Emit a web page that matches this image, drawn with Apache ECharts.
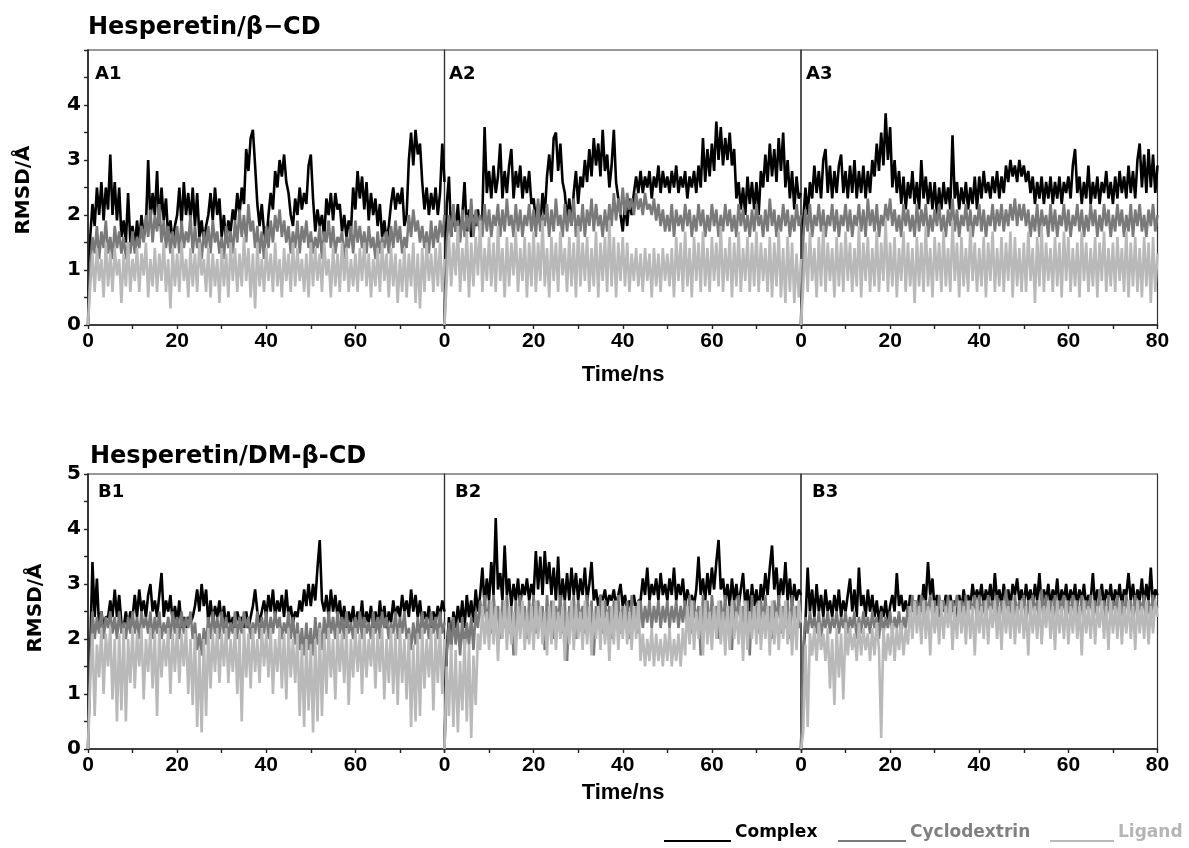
<!DOCTYPE html>
<html>
<head>
<meta charset="utf-8">
<script src="https://cdn.jsdelivr.net/npm/echarts@6/dist/echarts.min.js"></script>
<title>RMSD</title>
<style>html,body{margin:0;padding:0;background:#fff;}</style>
</head>
<body>
<div id="container" style="width:1189px;height:848px;"></div>
<script>
var a1Complex = [
  0, 1.6, 2.2, 1.8, 2.5, 2.0, 2.6, 1.9, 2.5, 2.1, 3.1, 2.0, 2.6, 1.9, 2.5, 1.6, 1.9, 1.5, 2.4, 1.5,
  1.8, 1.4, 1.9, 1.5, 2.0, 1.6, 1.8, 3.0, 1.9, 2.4, 2.0, 2.8, 1.8, 2.5, 1.9, 2.3, 1.6, 1.9, 1.5, 1.8,
  2.0, 2.5, 1.8, 2.6, 2.0, 2.4, 1.9, 2.5, 1.8, 2.4, 1.6, 1.9, 1.5, 1.8, 2.0, 2.4, 1.9, 2.5, 2.0, 2.3,
  1.6, 2.0, 1.5, 1.9, 1.7, 2.1, 1.9, 2.4, 2.0, 2.5, 2.2, 3.2, 2.8, 3.4, 3.55, 2.9, 2.2, 1.8, 2.2, 1.7,
  1.5, 2.0, 2.4, 2.1, 2.8, 2.5, 3.0, 2.7, 3.1, 2.6, 2.4, 2.0, 1.8, 2.3, 2.0, 2.5, 2.1, 2.4, 2.2, 2.9,
  3.1, 2.3, 1.7, 2.1, 1.8, 2.0, 1.6, 2.3, 2.0, 2.4, 1.9, 2.4, 2.1, 2.2, 1.7, 2.0, 1.6, 1.9, 1.7, 2.5,
  2.1, 2.8, 2.3, 2.7, 2.1, 2.6, 1.9, 2.4, 2.0, 2.3, 1.8, 2.2, 1.6, 1.9, 1.5, 1.8, 2.2, 2.5, 2.1, 2.4,
  2.2, 2.5, 1.8, 2.0, 3.0, 3.5, 2.9, 3.55, 3.1, 3.3, 2.6, 2.1, 2.5, 2.0, 2.4, 2.1, 2.5, 2.0, 2.4, 3.3,
  2.6];
var a1Cyclo = [
  0, 1.1, 1.6, 1.3, 1.8, 1.2, 1.7, 1.4, 1.9, 1.3, 1.6, 1.2, 1.8, 1.4, 1.7, 1.3, 1.6, 1.2, 1.5, 1.3,
  1.7, 1.3, 1.6, 1.4, 1.8, 1.5, 2.0, 1.6, 2.1, 1.5, 2.0, 1.7, 2.2, 1.5, 1.9, 1.4, 1.8, 1.3, 1.7, 1.4,
  1.8, 1.3, 1.9, 1.4, 1.7, 1.5, 2.0, 1.3, 1.8, 1.4, 1.6, 1.2, 1.7, 1.4, 1.8, 1.3, 1.9, 1.5, 1.7, 1.3,
  1.6, 1.2, 1.8, 1.4, 1.7, 1.3, 1.9, 1.5, 2.1, 1.6, 2.0, 1.5, 2.2, 1.7, 1.9, 1.4, 1.8, 1.3, 1.7, 1.2,
  1.8, 1.4, 1.9, 1.5, 2.0, 1.7, 2.1, 1.6, 1.9, 1.5, 1.8, 1.3, 1.7, 1.4, 1.9, 1.3, 1.8, 1.5, 1.9, 1.4,
  1.7, 1.3, 1.6, 1.4, 1.8, 1.2, 1.7, 1.5, 1.9, 1.4, 1.8, 1.3, 1.6, 1.5, 1.7, 1.2, 1.6, 1.4, 1.8, 1.3,
  1.9, 1.5, 1.8, 1.4, 1.7, 1.3, 1.8, 1.4, 1.6, 1.2, 1.7, 1.3, 1.6, 1.4, 1.7, 1.3, 1.8, 1.4, 1.9, 1.5,
  1.8, 1.3, 1.6, 1.4, 2.0, 1.6, 2.1, 1.7, 1.9, 1.5, 1.8, 1.4, 1.7, 1.3, 1.9, 1.4, 1.8, 1.5, 1.9, 1.6,
  2.0];
var a1Ligand = [
  0, 0.7, 1.3, 0.6, 1.4, 0.8, 1.2, 0.5, 1.5, 0.7, 1.3, 0.6, 1.4, 0.9, 1.2, 0.4, 1.3, 0.7, 1.5, 0.6,
  1.2, 0.8, 1.4, 0.6, 1.3, 0.9, 1.5, 0.5, 1.2, 0.7, 1.4, 0.6, 1.3, 0.8, 1.5, 0.6, 1.2, 0.3, 1.4, 0.7,
  1.3, 0.6, 1.5, 0.8, 1.2, 0.5, 1.4, 0.7, 1.3, 0.6, 1.5, 0.9, 1.2, 0.6, 1.4, 0.5, 1.3, 0.7, 1.2, 0.4,
  1.4, 0.7, 1.3, 0.5, 1.5, 0.8, 1.4, 0.6, 1.3, 0.7, 1.6, 0.8, 1.4, 0.5, 1.3, 0.3, 1.5, 0.7, 1.2, 0.6,
  1.4, 0.8, 1.3, 0.6, 1.5, 0.7, 1.2, 0.5, 1.4, 0.8, 1.3, 0.6, 1.5, 0.7, 1.4, 0.8, 1.2, 0.6, 1.3, 0.5,
  1.5, 0.7, 1.4, 0.8, 1.3, 0.6, 1.5, 0.9, 1.2, 0.5, 1.4, 0.7, 1.3, 0.6, 1.5, 0.8, 1.4, 0.6, 1.2, 0.7,
  1.3, 0.6, 1.4, 0.8, 1.5, 0.7, 1.3, 0.5, 1.2, 0.7, 1.4, 0.6, 1.5, 0.8, 1.3, 0.5, 1.4, 0.7, 1.3, 0.4,
  1.2, 0.6, 1.4, 0.5, 1.3, 0.7, 1.5, 0.4, 1.3, 0.3, 1.4, 0.6, 1.5, 0.8, 1.3, 0.6, 1.4, 0.7, 1.5, 0.6,
  1.2];

var a2Complex = [
  0, 2.2, 2.7, 1.6, 2.1, 1.7, 2.2, 1.6, 2.0, 2.6, 1.7, 2.1, 1.6, 2.0, 1.8, 2.1, 1.7, 2.0, 3.6, 2.4,
  2.8, 2.3, 2.9, 2.4, 2.7, 3.3, 2.3, 2.8, 2.4, 2.9, 3.2, 2.3, 2.8, 2.5, 2.9, 2.3, 2.7, 2.4, 2.8, 2.2,
  2.3, 1.9, 2.2, 1.8, 2.4, 2.0, 2.7, 3.1, 2.6, 3.4, 3.5, 2.8, 3.3, 2.6, 2.4, 1.9, 2.3, 1.8, 2.4, 2.8,
  2.2, 2.7, 2.5, 3.0, 2.6, 3.2, 2.7, 3.4, 2.9, 3.3, 2.7, 3.55, 2.8, 3.1, 2.5, 2.9, 3.55, 2.6, 2.3, 2.0,
  1.7, 2.2, 1.8, 2.3, 2.0, 2.4, 2.7, 2.4, 2.8, 2.4, 2.7, 2.5, 2.8, 2.3, 2.7, 2.5, 2.9, 2.4, 2.8, 2.5,
  2.7, 2.4, 2.8, 2.5, 2.9, 2.4, 2.7, 2.5, 2.8, 2.3, 2.7, 2.5, 2.8, 2.4, 2.9, 2.5, 3.4, 2.6, 3.2, 2.7,
  3.3, 2.8, 3.7, 3.0, 3.6, 2.9, 3.4, 3.0, 3.5, 2.9, 3.2, 2.3, 2.6, 2.1, 2.5, 2.0, 2.7, 2.2, 2.6, 2.1,
  2.6, 2.0, 2.8, 2.5, 3.1, 2.6, 3.3, 2.7, 3.2, 2.6, 3.4, 2.8, 3.5, 2.5, 3.0, 2.3, 2.8, 2.1, 2.7, 2.3,
  2.4];
var a2Cyclo = [
  0, 1.5, 2.0, 1.6, 2.2, 1.7, 1.9, 1.5, 2.1, 1.6, 2.0, 1.7, 2.3, 1.6, 2.1, 1.8, 2.0, 1.6, 2.2, 1.7,
  2.1, 1.6, 2.0, 1.8, 2.2, 1.6, 2.1, 1.7, 2.3, 1.8, 2.0, 1.6, 2.2, 1.7, 2.1, 1.6, 2.0, 1.8, 2.2, 1.7,
  2.1, 1.6, 2.3, 1.7, 2.0, 1.8, 2.2, 1.6, 2.1, 1.7, 2.3, 1.8, 2.0, 1.6, 2.2, 1.7, 2.1, 1.8, 2.3, 1.6,
  2.0, 1.7, 2.2, 1.6, 2.1, 1.8, 2.3, 1.7, 2.2, 1.8, 2.0, 1.6, 2.1, 1.7, 2.2, 1.8, 2.4, 1.9, 2.3, 2.0,
  2.5, 2.0, 2.4, 2.1, 2.3, 2.0, 2.4, 2.1, 2.3, 2.0, 2.4, 2.1, 2.2, 2.0, 2.3, 1.9, 2.2, 1.8, 2.1, 1.7,
  2.0, 1.7, 2.2, 1.6, 2.1, 1.8, 2.0, 1.7, 2.2, 1.8, 2.1, 1.6, 2.0, 1.7, 2.2, 1.8, 2.1, 1.6, 2.0, 1.7,
  2.2, 1.8, 2.1, 1.6, 2.0, 1.7, 2.2, 1.8, 2.1, 1.7, 2.0, 1.6, 2.2, 1.8, 2.1, 1.7, 2.0, 1.6, 2.1, 1.7,
  2.2, 1.8, 2.0, 1.6, 2.1, 1.7, 2.3, 1.8, 2.1, 1.6, 2.0, 1.7, 2.2, 1.8, 2.1, 1.6, 2.0, 1.7, 2.2, 1.8,
  2.0];
var a2Ligand = [
  0, 0.8, 1.6, 0.7, 1.5, 0.9, 1.8, 0.6, 1.4, 0.8, 1.7, 0.5, 1.5, 0.7, 1.6, 0.9, 1.9, 0.6, 1.4, 0.8,
  1.6, 0.7, 1.5, 0.6, 1.8, 0.8, 1.4, 0.5, 1.6, 0.7, 1.5, 0.9, 1.7, 0.6, 1.4, 0.8, 1.6, 0.5, 1.5, 0.7,
  1.7, 0.6, 1.5, 0.8, 1.9, 0.7, 1.4, 0.5, 1.6, 0.8, 1.5, 0.6, 1.7, 0.9, 1.4, 0.6, 1.6, 0.7, 1.5, 0.5,
  1.8, 0.7, 1.5, 0.8, 1.6, 0.6, 1.4, 0.7, 1.7, 0.5, 1.5, 0.8, 1.6, 0.6, 1.9, 0.7, 1.6, 0.5, 1.5, 0.8,
  1.6, 0.7, 1.5, 0.6, 1.3, 0.8, 1.4, 0.7, 1.3, 0.6, 1.4, 0.8, 1.3, 0.5, 1.4, 0.7, 1.3, 0.6, 1.4, 0.8,
  1.3, 0.7, 1.4, 0.5, 1.6, 0.8, 1.5, 0.6, 1.7, 0.7, 1.4, 0.5, 1.6, 0.8, 1.5, 0.6, 1.7, 0.7, 1.4, 0.6,
  1.6, 0.8, 1.5, 0.7, 1.8, 0.6, 1.4, 0.8, 1.6, 0.5, 1.5, 0.7, 1.7, 0.6, 1.4, 0.8, 1.6, 0.6, 1.5, 0.7,
  1.7, 0.6, 1.5, 0.8, 1.4, 0.6, 1.6, 0.5, 1.5, 0.7, 1.7, 0.5, 1.4, 0.4, 1.6, 0.6, 1.5, 0.4, 1.3, 0.5,
  1.2];

var a3Complex = [
  0, 1.9, 2.5, 2.0, 2.6, 2.3, 2.9, 2.4, 2.8, 2.3, 3.0, 3.2, 2.4, 2.9, 2.3, 2.8, 2.4, 2.9, 3.1, 2.4,
  2.8, 2.3, 2.9, 2.4, 3.0, 2.3, 2.8, 2.4, 2.9, 2.3, 2.8, 2.4, 3.0, 2.7, 3.3, 2.8, 3.5, 2.9, 3.85, 3.0,
  3.6, 2.5, 3.0, 2.4, 2.8, 2.2, 2.7, 2.1, 2.6, 2.3, 2.8, 2.2, 2.6, 2.1, 3.0, 2.3, 2.7, 2.2, 2.6, 2.1,
  2.6, 2.0, 2.5, 2.1, 2.6, 2.2, 2.5, 2.1, 3.45, 2.3, 2.6, 2.1, 2.5, 2.2, 2.6, 2.1, 2.5, 2.2, 2.7, 2.1,
  2.7, 2.3, 2.8, 2.4, 2.6, 2.3, 2.7, 2.4, 2.8, 2.3, 2.7, 2.4, 2.9, 2.6, 3.0, 2.7, 2.9, 2.6, 3.0, 2.7,
  2.9, 2.6, 2.8, 2.4, 2.7, 2.2, 2.6, 2.3, 2.7, 2.2, 2.6, 2.3, 2.7, 2.2, 2.6, 2.3, 2.7, 2.2, 2.6, 2.4,
  2.7, 2.3, 2.9, 3.2, 2.4, 2.7, 2.2, 2.6, 2.3, 2.9, 2.2, 2.6, 2.3, 2.7, 2.2, 2.6, 2.4, 2.8, 2.3, 2.6,
  2.2, 2.7, 2.3, 2.8, 2.4, 2.7, 2.3, 2.9, 2.4, 2.8, 2.3, 3.0, 3.3, 2.5, 3.1, 2.4, 3.2, 2.5, 3.1, 2.4,
  2.9];
var a3Cyclo = [
  0, 1.6, 2.1, 1.7, 2.2, 1.6, 2.0, 1.8, 2.2, 1.7, 2.1, 1.6, 2.0, 1.8, 2.2, 1.7, 2.1, 1.6, 2.0, 1.8,
  2.2, 1.7, 2.1, 1.6, 2.0, 1.8, 2.2, 1.7, 2.1, 1.6, 2.3, 1.8, 2.1, 1.7, 2.2, 1.6, 2.0, 1.8, 2.2, 1.9,
  2.3, 1.8, 2.1, 1.7, 2.0, 1.6, 2.2, 1.8, 2.1, 1.7, 2.0, 1.6, 2.2, 1.7, 2.1, 1.8, 2.2, 1.6, 2.0, 1.7,
  2.1, 1.8, 2.2, 1.7, 2.0, 1.6, 2.1, 1.8, 2.3, 1.7, 2.1, 1.6, 2.0, 1.8, 2.2, 1.7, 2.1, 1.6, 2.0, 1.8,
  2.2, 1.7, 2.1, 1.6, 2.0, 1.8, 2.2, 1.7, 2.1, 1.8, 2.2, 1.7, 2.1, 1.8, 2.2, 1.9, 2.3, 1.8, 2.2, 1.9,
  2.2, 1.8, 2.1, 1.6, 2.0, 1.7, 2.2, 1.6, 2.1, 1.8, 2.0, 1.6, 2.2, 1.7, 2.1, 1.6, 2.0, 1.8, 2.2, 1.7,
  2.1, 1.6, 2.0, 1.8, 2.2, 1.7, 2.1, 1.6, 2.0, 1.7, 2.2, 1.8, 2.1, 1.6, 2.0, 1.7, 2.2, 1.8, 2.1, 1.6,
  2.0, 1.7, 2.2, 1.8, 2.1, 1.6, 2.0, 1.7, 2.2, 1.6, 2.1, 1.8, 2.2, 1.7, 2.0, 1.6, 2.1, 1.8, 2.2, 1.7,
  2.0];
var a3Ligand = [
  0, 0.7, 1.5, 0.6, 1.7, 0.8, 1.4, 0.5, 1.6, 0.7, 1.8, 0.6, 1.5, 0.8, 1.4, 0.5, 1.6, 0.7, 1.5, 0.6,
  1.7, 0.8, 1.5, 0.6, 1.4, 0.7, 1.8, 0.5, 1.5, 0.8, 1.6, 0.6, 1.4, 0.7, 1.7, 0.6, 1.5, 0.8, 1.9, 0.6,
  1.5, 0.7, 1.6, 0.5, 1.4, 0.8, 1.7, 0.6, 1.5, 0.7, 1.4, 0.4, 1.6, 0.7, 1.5, 0.6, 1.8, 0.7, 1.4, 0.5,
  1.6, 0.8, 1.5, 0.6, 1.7, 0.7, 1.4, 0.6, 1.9, 0.8, 1.5, 0.5, 1.6, 0.7, 1.4, 0.6, 1.8, 0.8, 1.5, 0.6,
  1.4, 0.7, 1.6, 0.5, 1.5, 0.8, 1.7, 0.6, 1.4, 0.7, 1.6, 0.6, 1.5, 0.8, 1.7, 0.5, 1.6, 0.7, 1.4, 0.6,
  1.5, 0.6, 1.7, 0.8, 1.4, 0.4, 1.6, 0.7, 1.8, 0.6, 1.5, 0.8, 1.4, 0.6, 1.6, 0.7, 1.5, 0.5, 1.7, 0.8,
  1.6, 0.6, 1.4, 0.7, 1.5, 0.5, 1.7, 0.8, 1.5, 0.6, 1.4, 0.7, 1.6, 0.5, 1.5, 0.8, 1.7, 0.6, 1.4, 0.7,
  1.5, 0.6, 1.6, 0.8, 1.4, 0.6, 1.7, 0.5, 1.5, 0.7, 1.6, 0.6, 1.4, 0.5, 1.6, 0.7, 1.5, 0.4, 1.6, 0.6,
  1.3];

var b1Complex = [
  0, 1.8, 3.4, 2.4, 3.1, 2.2, 2.5, 2.2, 2.4, 2.4, 2.7, 2.4, 2.9, 2.4, 2.8, 2.3, 2.2, 2.5, 2.2, 2.5,
  2.4, 2.8, 2.4, 2.9, 2.5, 2.7, 2.4, 2.8, 3.0, 2.5, 2.7, 2.4, 2.8, 3.2, 2.4, 2.7, 2.5, 2.8, 2.3, 2.6,
  2.3, 2.7, 2.2, 2.4, 2.2, 2.4, 2.3, 2.4, 2.6, 2.9, 2.5, 3.0, 2.6, 2.9, 2.3, 2.7, 2.3, 2.6, 2.4, 2.7,
  2.3, 2.6, 2.2, 2.5, 2.2, 2.4, 2.2, 2.5, 2.3, 2.4, 2.2, 2.5, 2.2, 2.4, 2.6, 2.9, 2.5, 2.3, 2.5, 2.7,
  2.4, 2.8, 2.5, 2.9, 2.4, 2.7, 2.5, 2.8, 2.4, 2.9, 2.4, 2.6, 2.3, 2.5, 2.4, 2.7, 2.5, 2.9, 2.6, 3.0,
  2.6, 3.0, 2.7, 3.3, 3.8, 2.7, 2.5, 2.8, 2.4, 2.9, 2.5, 2.8, 2.4, 2.7, 2.3, 2.6, 2.2, 2.5, 2.3, 2.6,
  2.2, 2.5, 2.3, 2.7, 2.2, 2.5, 2.3, 2.6, 2.2, 2.5, 2.2, 2.7, 2.3, 2.6, 2.2, 2.5, 2.3, 2.7, 2.4, 2.6,
  2.4, 2.8, 2.5, 2.7, 2.4, 2.9, 2.5, 2.8, 2.4, 2.7, 2.3, 2.5, 2.3, 2.6, 2.2, 2.5, 2.3, 2.6, 2.4, 2.7,
  2.5];
var b1Cyclo = [
  0, 1.6, 2.5, 2.0, 2.4, 2.1, 2.5, 2.0, 2.4, 2.2, 2.5, 2.1, 2.4, 2.0, 2.5, 2.1, 2.3, 2.0, 2.4, 2.1,
  2.5, 2.1, 2.4, 2.0, 2.5, 2.2, 2.4, 2.1, 2.5, 2.0, 2.4, 2.1, 2.5, 2.0, 2.3, 2.1, 2.4, 2.0, 2.5, 2.1,
  2.4, 2.0, 2.5, 2.1, 2.4, 2.2, 2.5, 2.0, 2.3, 1.8, 2.1, 1.7, 2.2, 1.9, 2.4, 2.0, 2.5, 2.1, 2.4, 2.0,
  2.5, 2.1, 2.4, 2.0, 2.3, 2.1, 2.5, 2.0, 2.4, 2.1, 2.5, 2.2, 2.4, 2.0, 2.3, 2.1, 2.5, 2.0, 2.4, 2.1,
  2.5, 2.0, 2.4, 2.1, 2.5, 2.2, 2.4, 2.0, 2.3, 2.1, 2.5, 2.0, 2.4, 1.9, 2.3, 1.8, 2.2, 1.7, 2.3, 1.8,
  2.2, 1.7, 2.4, 1.9, 2.3, 1.8, 2.4, 2.0, 2.5, 2.1, 2.4, 2.0, 2.5, 2.1, 2.4, 2.0, 2.5, 2.1, 2.3, 2.0,
  2.4, 2.1, 2.5, 2.0, 2.4, 2.1, 2.3, 2.0, 2.5, 2.1, 2.4, 2.0, 2.5, 2.2, 2.4, 2.0, 2.3, 2.1, 2.5, 2.0,
  2.4, 2.1, 2.5, 2.0, 2.2, 1.8, 2.3, 1.9, 2.4, 2.0, 2.5, 2.1, 2.4, 2.0, 2.5, 2.1, 2.4, 2.0, 2.5, 2.1,
  2.3];
var b1Ligand = [
  0, 1.2, 2.1, 0.6, 1.9, 1.3, 2.2, 1.0, 2.1, 1.5, 2.2, 0.9, 2.0, 0.5, 2.1, 0.7, 2.2, 0.5, 2.0, 1.2,
  2.2, 1.1, 2.1, 1.5, 2.2, 0.9, 2.0, 1.4, 2.2, 1.1, 2.1, 0.6, 2.2, 1.3, 2.0, 1.5, 2.2, 1.0, 2.1, 1.4,
  2.2, 1.2, 2.1, 1.5, 2.2, 1.0, 2.0, 0.8, 2.1, 0.4, 1.8, 0.3, 2.0, 0.6, 2.2, 1.1, 2.1, 1.4, 2.2, 1.2,
  2.1, 1.5, 2.2, 1.2, 2.0, 1.4, 2.2, 1.0, 2.1, 0.5, 2.2, 1.3, 2.1, 1.1, 2.2, 1.4, 2.0, 1.2, 2.2, 1.5,
  2.1, 1.3, 2.2, 1.0, 2.0, 1.4, 2.2, 1.1, 2.1, 0.9, 2.2, 1.3, 2.0, 1.2, 2.1, 0.6, 1.9, 0.4, 2.0, 0.7,
  1.9, 0.3, 2.0, 0.5, 2.2, 0.6, 2.1, 1.0, 2.2, 1.3, 2.0, 0.9, 2.2, 1.4, 2.1, 1.2, 2.2, 0.8, 2.0, 1.3,
  2.2, 1.4, 2.1, 1.0, 2.2, 1.3, 2.0, 1.5, 2.2, 1.1, 2.1, 1.4, 2.2, 0.9, 2.0, 1.2, 2.2, 1.0, 2.1, 0.8,
  2.2, 1.2, 2.0, 0.9, 2.1, 0.4, 1.9, 0.5, 2.1, 0.6, 2.2, 1.1, 2.0, 1.3, 2.2, 0.7, 2.1, 1.2, 2.2, 1.0,
  2.0];

var b2Complex = [
  0, 1.8, 2.4, 1.9, 2.5, 2.2, 2.6, 2.3, 2.7, 2.2, 2.8, 2.4, 2.7, 2.3, 2.9, 2.5, 2.8, 3.3, 2.6, 3.1,
  2.7, 3.4, 2.8, 4.2, 2.9, 3.2, 2.7, 3.7, 2.8, 3.1, 2.6, 3.0, 2.7, 3.1, 2.6, 3.0, 2.8, 3.1, 2.7, 3.0,
  2.8, 3.6, 2.9, 3.5, 2.8, 3.6, 3.0, 3.4, 2.8, 3.3, 2.7, 3.5, 2.6, 3.1, 2.7, 3.2, 2.7, 3.3, 2.8, 3.2,
  2.7, 3.1, 2.8, 3.3, 2.7, 3.0, 3.4, 2.7, 2.9, 2.6, 2.8, 2.7, 2.9, 2.6, 2.8, 2.7, 2.9, 2.6, 2.8, 3.0,
  2.6, 2.8, 2.5, 2.7, 2.6, 2.8, 2.5, 2.7, 2.7, 3.1, 2.8, 3.3, 2.7, 3.0, 2.8, 3.1, 2.7, 3.2, 2.8, 3.0,
  2.7, 3.1, 2.8, 3.3, 2.7, 3.0, 2.8, 3.1, 2.6, 2.9, 2.7, 2.8, 2.6, 2.9, 3.5, 2.8, 3.1, 2.7, 3.2, 2.8,
  3.3, 2.9, 3.4, 3.8, 2.9, 3.1, 2.7, 3.0, 2.6, 3.1, 2.7, 3.0, 2.6, 2.9, 3.2, 2.6, 2.9, 2.5, 3.0, 2.6,
  2.9, 2.5, 3.0, 2.7, 3.2, 2.8, 3.3, 3.7, 2.9, 3.3, 2.7, 3.1, 2.8, 3.4, 2.7, 3.1, 2.6, 3.0, 2.7, 2.9,
  2.8];
var b2Cyclo = [
  0, 1.7, 2.3, 1.8, 2.4, 1.9, 2.3, 1.7, 2.4, 1.8, 2.3, 1.9, 2.4, 1.8, 2.5, 2.2, 2.7, 2.3, 2.8, 2.2,
  2.7, 2.1, 2.8, 2.3, 2.6, 2.0, 2.7, 2.2, 2.8, 2.1, 2.6, 1.7, 2.7, 2.2, 2.8, 2.3, 2.6, 2.0, 2.7, 2.2,
  2.8, 2.1, 2.7, 2.3, 2.6, 1.8, 2.8, 2.2, 2.7, 2.0, 2.6, 2.3, 2.8, 2.1, 2.7, 1.6, 2.6, 2.2, 2.8, 2.0,
  2.7, 2.3, 2.6, 2.1, 2.8, 2.2, 2.7, 1.7, 2.6, 2.2, 2.8, 2.1, 2.7, 2.3, 2.6, 2.0, 2.7, 2.2, 2.8, 2.1,
  2.6, 2.2, 2.7, 2.0, 2.8, 2.3, 2.6, 2.1, 2.7, 2.2, 2.6, 2.3, 2.7, 2.2, 2.6, 2.3, 2.7, 2.2, 2.6, 2.3,
  2.7, 2.2, 2.6, 2.3, 2.7, 2.2, 2.6, 2.3, 2.7, 2.2, 2.8, 2.1, 2.7, 2.3, 2.6, 1.7, 2.8, 2.2, 2.7, 2.1,
  2.8, 2.3, 2.6, 2.0, 2.7, 2.2, 2.8, 2.1, 2.6, 1.8, 2.7, 2.3, 2.8, 2.2, 2.6, 2.1, 2.7, 1.7, 2.8, 2.2,
  2.6, 2.1, 2.7, 2.3, 2.8, 2.2, 2.6, 2.0, 2.7, 2.3, 2.8, 2.1, 2.6, 2.2, 2.7, 2.0, 2.8, 2.3, 2.6, 2.2,
  2.5];
var b2Ligand = [
  0, 1.5, 0.6, 1.9, 0.4, 1.8, 0.3, 1.6, 0.7, 2.0, 0.5, 1.9, 0.2, 1.7, 0.8, 2.1, 1.8, 2.6, 1.9, 2.5,
  1.8, 2.7, 1.9, 2.6, 1.6, 2.5, 2.0, 2.7, 1.8, 2.6, 1.9, 2.5, 1.7, 2.6, 2.0, 2.7, 1.8, 2.5, 1.9, 2.6,
  1.8, 2.7, 2.0, 2.6, 1.9, 2.5, 1.7, 2.6, 1.9, 2.7, 1.8, 2.5, 2.0, 2.6, 1.6, 2.5, 1.9, 2.7, 1.8, 2.6,
  2.0, 2.5, 1.8, 2.7, 1.9, 2.6, 1.7, 2.5, 2.0, 2.6, 1.8, 2.7, 1.9, 2.5, 1.6, 2.6, 1.9, 2.7, 1.8, 2.5,
  2.0, 2.6, 1.9, 2.5, 1.8, 2.6, 2.0, 2.7, 1.6, 2.1, 1.5, 2.0, 1.6, 2.2, 1.5, 2.1, 1.6, 2.0, 1.5, 2.1,
  1.6, 2.2, 1.5, 2.0, 1.6, 2.1, 1.5, 2.2, 1.7, 2.6, 1.9, 2.7, 1.8, 2.5, 2.0, 2.6, 1.7, 2.7, 1.9, 2.5,
  1.8, 2.6, 2.0, 2.7, 1.9, 2.5, 1.7, 2.6, 1.8, 2.7, 2.0, 2.5, 1.9, 2.6, 1.6, 2.7, 1.8, 2.5, 2.0, 2.6,
  1.9, 2.7, 1.8, 2.5, 2.0, 2.6, 1.7, 2.7, 1.9, 2.5, 1.8, 2.6, 2.0, 2.7, 1.9, 2.5, 1.7, 2.6, 1.8, 2.7,
  2.3];

var b3Complex = [
  0, 1.7, 2.3, 3.3, 2.5, 2.9, 2.4, 3.0, 2.5, 2.8, 2.4, 2.9, 2.5, 2.7, 2.4, 2.8, 2.5, 2.9, 2.4, 2.7,
  2.5, 2.8, 3.1, 2.5, 2.9, 2.4, 3.3, 2.6, 2.8, 2.4, 2.9, 2.5, 2.8, 2.4, 2.7, 2.3, 2.6, 2.4, 2.7, 2.3,
  2.6, 2.8, 2.5, 3.2, 2.6, 2.8, 2.5, 2.7, 2.4, 2.8, 2.5, 2.7, 2.4, 2.8, 2.5, 3.0, 2.7, 3.4, 2.8, 3.1,
  2.5, 2.8, 2.4, 2.7, 2.5, 2.8, 2.4, 2.8, 2.5, 2.7, 2.4, 2.8, 2.5, 2.9, 2.6, 2.8, 2.6, 3.0, 2.7, 2.9,
  2.7, 3.0, 2.6, 2.9, 2.7, 3.0, 2.6, 3.2, 2.7, 2.9, 2.6, 3.0, 2.7, 2.9, 2.6, 3.0, 2.8, 3.1, 2.7, 2.9,
  2.6, 3.0, 2.7, 2.9, 2.6, 3.0, 2.7, 3.2, 2.6, 2.9, 2.7, 3.0, 2.6, 2.9, 2.7, 3.1, 2.6, 2.9, 2.7, 3.0,
  2.6, 2.9, 2.7, 3.0, 2.6, 2.9, 2.7, 3.0, 2.6, 2.8, 2.7, 3.2, 2.6, 2.9, 2.7, 3.0, 2.6, 2.9, 2.7, 3.0,
  2.6, 2.9, 2.7, 3.0, 2.6, 2.9, 2.8, 3.2, 2.7, 3.0, 2.6, 2.9, 2.7, 3.1, 2.6, 3.0, 2.7, 3.3, 2.6, 2.9,
  2.8];
var b3Cyclo = [
  0, 1.8, 2.4, 2.1, 2.5, 2.2, 2.4, 2.1, 2.5, 2.0, 2.4, 2.2, 2.5, 2.1, 2.4, 2.2, 2.5, 2.1, 2.4, 2.2,
  2.5, 2.1, 2.4, 2.2, 2.5, 2.0, 2.4, 2.1, 2.5, 2.2, 2.4, 2.1, 2.5, 2.2, 2.4, 2.0, 2.5, 2.1, 2.4, 2.2,
  2.5, 2.1, 2.4, 2.2, 2.5, 2.1, 2.4, 2.2, 2.6, 2.4, 2.8, 2.3, 2.7, 2.4, 2.8, 2.3, 2.7, 2.5, 2.8, 2.4,
  2.7, 2.3, 2.8, 2.5, 2.7, 2.4, 2.8, 2.3, 2.7, 2.5, 2.8, 2.4, 2.7, 2.3, 2.8, 2.4, 2.7, 2.5, 2.8, 2.3,
  2.8, 2.4, 2.7, 2.3, 2.8, 2.5, 2.7, 2.4, 2.8, 2.3, 2.7, 2.5, 2.9, 2.4, 2.7, 2.3, 2.8, 2.4, 2.7, 2.5,
  2.8, 2.3, 2.7, 2.4, 2.8, 2.5, 2.7, 2.3, 2.9, 2.4, 2.8, 2.5, 2.7, 2.3, 2.8, 2.4, 2.7, 2.5, 2.8, 2.3,
  2.7, 2.4, 2.8, 2.5, 2.7, 2.3, 2.8, 2.4, 2.7, 2.5, 2.8, 2.3, 2.7, 2.4, 2.9, 2.5, 2.7, 2.3, 2.8, 2.4,
  2.7, 2.5, 2.8, 2.3, 2.7, 2.4, 2.8, 2.5, 2.7, 2.3, 2.8, 2.4, 2.7, 2.5, 2.8, 2.3, 2.7, 2.4, 2.8, 2.5,
  2.6];
var b3Ligand = [
  0, 0.3, 1.9, 0.4, 2.1, 1.7, 2.2, 1.6, 2.3, 1.8, 2.1, 1.6, 2.2, 1.1, 2.0, 0.8, 2.2, 1.3, 2.1, 0.9,
  2.3, 1.7, 2.2, 1.8, 2.1, 1.6, 2.3, 1.7, 2.2, 1.8, 2.1, 1.6, 2.2, 1.7, 2.3, 1.8, 0.2, 2.2, 1.6, 2.1,
  1.7, 2.3, 1.6, 2.2, 1.8, 2.3, 1.7, 2.2, 1.9, 2.6, 2.0, 2.7, 2.1, 2.6, 1.9, 2.7, 2.0, 2.6, 1.7, 2.7,
  2.1, 2.6, 1.9, 2.7, 2.0, 2.6, 2.2, 2.7, 1.8, 2.6, 2.0, 2.7, 2.1, 2.6, 1.9, 2.7, 2.0, 2.6, 1.7, 2.7,
  2.1, 2.6, 2.0, 2.7, 1.9, 2.6, 2.2, 2.7, 2.0, 2.6, 1.8, 2.7, 2.1, 2.6, 2.0, 2.7, 1.9, 2.6, 2.1, 2.7,
  2.0, 2.6, 1.7, 2.7, 2.1, 2.6, 2.0, 2.7, 1.9, 2.6, 2.2, 2.7, 2.0, 2.6, 1.8, 2.7, 2.1, 2.6, 2.0, 2.7,
  1.9, 2.6, 2.1, 2.7, 2.0, 2.6, 1.7, 2.7, 2.1, 2.6, 2.0, 2.7, 1.9, 2.6, 2.2, 2.7, 2.0, 2.6, 1.8, 2.7,
  2.1, 2.6, 2.0, 2.7, 1.9, 2.6, 2.1, 2.7, 2.0, 2.6, 1.8, 2.7, 2.1, 2.6, 2.0, 2.7, 1.9, 2.6, 2.1, 2.7,
  2.4];

var seriesNames = ['Complex', 'Cyclodextrin', 'Ligand'];
var seriesColors = ['#000000', '#7a7a7a', '#b9b9b9'];
var panelLabels = ['A1', 'A2', 'A3', 'B1', 'B2', 'B3'];
var panels = [
  [a1Complex, a1Cyclo, a1Ligand],
  [a2Complex, a2Cyclo, a2Ligand],
  [a3Complex, a3Cyclo, a3Ligand],
  [b1Complex, b1Cyclo, b1Ligand],
  [b2Complex, b2Cyclo, b2Ligand],
  [b3Complex, b3Cyclo, b3Ligand]
];
var step = 0.5; // ns between samples

var myChart = echarts.init(document.getElementById('container'));

var numFont = 'Liberation Sans, Arial, sans-serif';
var boldFont = 'DejaVu Sans, sans-serif';

var lefts = [88, 444.5, 801];
var tops = [50, 474];
var grids = [], xAxes = [], yAxes = [], series = [];

for (var p = 0; p < 6; p++) {
  var row = Math.floor(p / 3), col = p % 3;
  grids.push({
    left: lefts[col], top: tops[row], width: 356.5, height: 275,
    show: true, borderColor: '#333', borderWidth: 1.2, containLabel: false
  });
  (function (col) {
    xAxes.push({
      gridIndex: p, type: 'value', min: 0, max: 80, interval: 10,
      axisLine: { show: true, lineStyle: { color: '#222', width: 1.6 } },
      axisTick: { show: true, length: 4, lineStyle: { color: '#222', width: 1.4 } },
      splitLine: { show: false },
      axisLabel: {
        margin: 6, color: '#000', fontFamily: numFont, fontWeight: 'bold', fontSize: 21,
        formatter: function (v) {
          if (v % 20 !== 0) return '';
          if (v === 80 && col < 2) return '';
          return String(v);
        }
      }
    });
  })(col);
  (function (row, col) {
    yAxes.push({
      gridIndex: p, type: 'value', min: 0, max: 5, interval: 0.5,
      show: col === 0,
      axisLine: { show: true, lineStyle: { color: '#222', width: 1.6 } },
      axisTick: { show: true, length: 4, lineStyle: { color: '#222', width: 1.4 } },
      splitLine: { show: false },
      axisLabel: {
        margin: 7, color: '#000', fontFamily: boldFont, fontWeight: 'bold', fontSize: 20,
        formatter: function (v) {
          if (v % 1 !== 0) return '';
          if (v === 5 && row === 0) return '';
          return String(v);
        }
      }
    });
  })(row, col);
  for (var s = 0; s < 3; s++) {
    series.push({
      name: seriesNames[s], type: 'line', xAxisIndex: p, yAxisIndex: p,
      data: panels[p][s].map(function (v, i) { return [i * step, v]; }),
      showSymbol: false, symbol: 'none', silent: true, z: 2 + s,
      lineStyle: { color: seriesColors[s], width: 2.6, join: 'bevel' },
      itemStyle: { color: seriesColors[s] }
    });
  }
}

var graphics = [
  { type: 'text', x: 88, y: 28, style: { text: 'Hesperetin/β−CD', font: 'bold 24px ' + boldFont, fill: '#000', textVerticalAlign: 'middle' } },
  { type: 'text', x: 90, y: 457, style: { text: 'Hesperetin/DM-β-CD', font: 'bold 24px ' + boldFont, fill: '#000', textVerticalAlign: 'middle' } },
  { type: 'text', x: 24, y: 190, rotation: Math.PI / 2, style: { text: 'RMSD/Å', font: 'bold 20px ' + boldFont, fill: '#000', textAlign: 'center', textVerticalAlign: 'middle' } },
  { type: 'text', x: 36, y: 608, rotation: Math.PI / 2, style: { text: 'RMSD/Å', font: 'bold 20px ' + boldFont, fill: '#000', textAlign: 'center', textVerticalAlign: 'middle' } },
  { type: 'text', x: 623, y: 375, style: { text: 'Time/ns', font: 'bold 22px ' + numFont, fill: '#000', textAlign: 'center', textVerticalAlign: 'middle' } },
  { type: 'text', x: 623, y: 793, style: { text: 'Time/ns', font: 'bold 22px ' + numFont, fill: '#000', textAlign: 'center', textVerticalAlign: 'middle' } }
];

// panel labels
var labelPos = [[95, 74], [449, 74], [806, 74], [98, 492], [455, 492], [812, 492]];
panelLabels.forEach(function (t, i) {
  graphics.push({ type: 'text', x: labelPos[i][0], y: labelPos[i][1], style: { text: t, font: 'bold 18px ' + boldFont, fill: '#000', textVerticalAlign: 'middle' } });
});

// legend (underscore lines + names)
var legendLines = [[664, 731], [838, 906], [1050, 1114]];
var legendColors = ['#000000', '#808080', '#b5b5b5'];
seriesNames.forEach(function (n, i) {
  graphics.push({ type: 'line', shape: { x1: legendLines[i][0], y1: 841, x2: legendLines[i][1], y2: 841 }, style: { stroke: seriesColors[i], lineWidth: 2 } });
  graphics.push({ type: 'text', x: legendLines[i][1] + 4, y: 833, style: { text: n, font: 'bold 17px ' + boldFont, fill: legendColors[i], textVerticalAlign: 'middle' } });
});

var option = {
  animation: false,
  backgroundColor: '#fff',
  grid: grids,
  xAxis: xAxes,
  yAxis: yAxes,
  series: series,
  graphic: graphics
};

myChart.setOption(option);
</script>
</body>
</html>
